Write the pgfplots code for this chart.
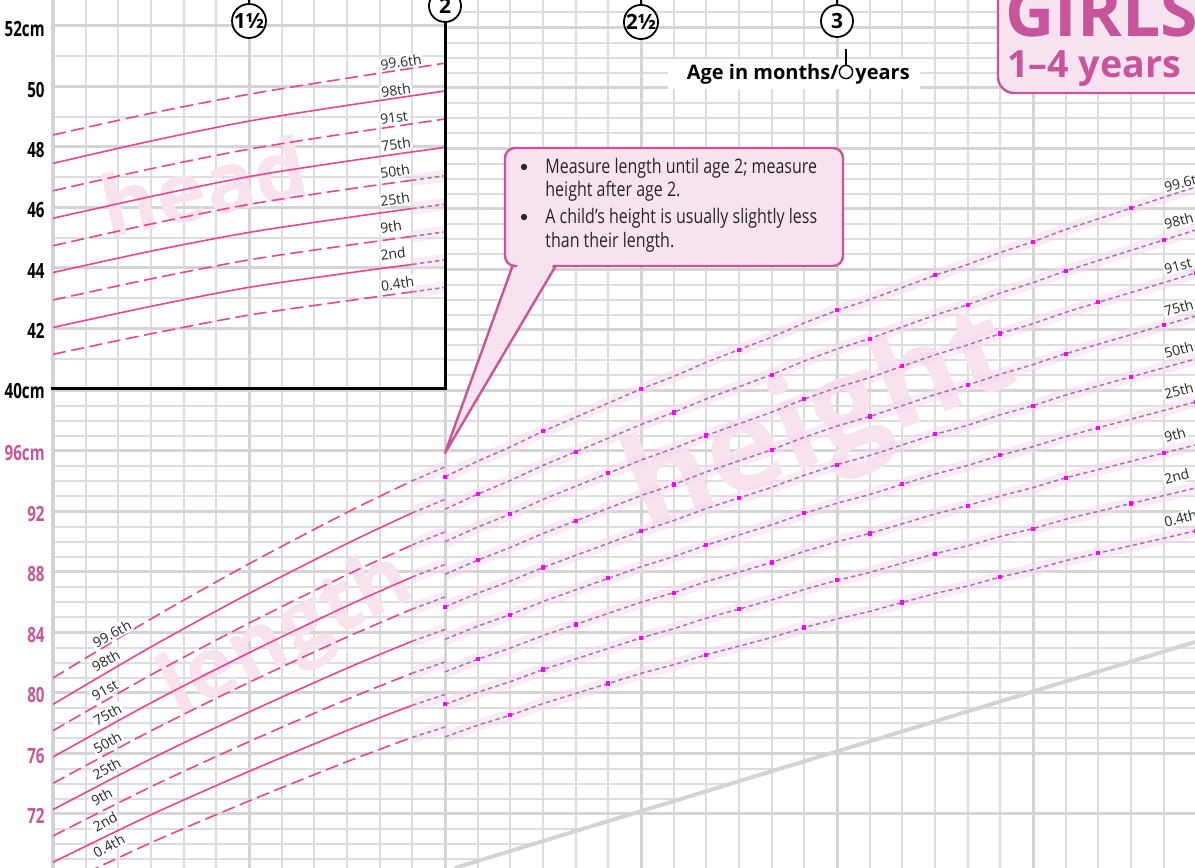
\documentclass[border=0pt]{standalone}
\usepackage{pgfplots}
\pgfplotsset{compat=1.18}
\usepackage{pgfplotstable}
\usepackage{fontspec}
\setmainfont{Open Sans}
\newfontfamily\condfont[FakeStretch=0.8]{Open Sans}
\newfontfamily\narrowfont[FakeStretch=0.72]{Open Sans}
\definecolor{gridc}{RGB}{221,221,221}
\definecolor{gridd}{RGB}{212,212,212}
\definecolor{lc}{RGB}{234,68,150}
\definecolor{fuzzc}{RGB}{160,124,156}
\definecolor{hazec}{RGB}{248,214,240}
\definecolor{wm}{RGB}{247,226,238}
\definecolor{cfill}{RGB}{247,227,240}
\definecolor{cborder}{RGB}{200,84,156}
\definecolor{labc}{RGB}{40,40,40}
\definecolor{dotc}{RGB}{255,0,255}

\pgfplotstableread{
m a b c d e f g h i
24 94.30 92.15 90.00 87.85 85.70 83.55 81.40 79.25 77.10
25 95.33 93.15 90.97 88.78 86.60 84.42 82.23 80.05 77.87
26 96.27 94.05 91.83 89.62 87.40 85.18 82.97 80.75 78.53
27 97.30 95.05 92.80 90.55 88.30 86.05 83.80 81.55 79.30
28 98.23 95.95 93.67 91.38 89.10 86.82 84.53 82.25 79.97
29 99.17 96.85 94.53 92.22 89.90 87.58 85.27 82.95 80.63
30 100.10 97.75 95.40 93.05 90.70 88.35 86.00 83.65 81.30
31 100.93 98.55 96.17 93.78 91.40 89.02 86.63 84.25 81.87
32 101.87 99.45 97.03 94.62 92.20 89.78 87.37 84.95 82.53
33 102.70 100.25 97.80 95.35 92.90 90.45 88.00 85.55 83.10
34 103.53 101.05 98.57 96.08 93.60 91.12 88.63 86.15 83.67
35 104.47 101.95 99.43 96.92 94.40 91.88 89.37 86.85 84.33
36 105.30 102.75 100.20 97.65 95.10 92.55 90.00 87.45 84.90
37 106.01 103.43 100.85 98.28 95.70 93.12 90.55 87.97 85.39
38 106.81 104.21 101.61 99.00 96.40 93.80 91.19 88.59 85.99
39 107.62 104.99 102.36 99.73 97.10 94.47 91.84 89.21 86.58
40 108.33 105.67 103.01 100.36 97.70 95.04 92.39 89.73 87.07
41 109.13 106.45 103.77 101.08 98.40 95.72 93.03 90.35 87.67
42 109.84 107.13 104.42 101.71 99.00 96.29 93.58 90.87 88.16
43 110.65 107.91 105.17 102.44 99.70 96.96 94.23 91.49 88.75
44 111.35 108.59 105.83 103.06 100.30 97.54 94.77 92.01 89.25
45 112.06 109.27 106.48 103.69 100.90 98.11 95.32 92.53 89.74
46 112.77 109.95 107.13 104.32 101.50 98.68 95.87 93.05 90.23
47 113.47 110.63 107.79 104.94 102.10 99.26 96.41 93.57 90.73
}\heighttab

\pgfplotsset{
  crisp/.style={lc, line width=0.8pt, smooth},
  crispd/.style={crisp, dash pattern=on 6.5pt off 2.8pt},
  fuzz/.style={fuzzc, line width=0.75pt, dash pattern=on 2.2pt off 1.6pt,
     preaction={draw=hazec, line width=6pt, solid, opacity=0.5}},
  dots/.style={dotc, only marks, mark=square*, mark size=0.8pt,
     mark options={solid, fill=dotc, draw=dotc, line width=0pt}, mark repeat=3, mark phase=#1},
}

\begin{document}
\begin{tikzpicture}
\path[use as bounding box] (0,0) rectangle (597.5pt,434pt);
\clip (0,0) rectangle (597.5pt,434pt);
\fill[white] (0,0) rectangle (597.5pt,434pt);

% ---------- grid (months / length cm) ----------
\begin{scope}[x=16.333333pt,y=7.5625pt,shift={(-169.5pt,-517.5pt)}, line cap=butt]
 \foreach \m in {13,...,47} \draw[gridc,line width=0.9pt] (\m,68.3) -- (\m,126);
 \foreach \L in {69,...,75} \draw[gridc,line width=0.9pt] (12,\L) -- ({24.3+(\L-68.43)/0.6593},\L);
 \foreach \L in {77,...,100} \draw[gridc,line width=0.9pt] (12,\L) -- (47.2,\L);
 \foreach \L in {101,...,125} \draw[gridc,line width=0.9pt] (24,\L) -- (47.2,\L);
 \foreach \H in {41,...,52} \draw[gridc,line width=0.9pt] (12,{100.1+2*(\H-40)}) -- (24,{100.1+2*(\H-40)});
 \foreach \m in {18,24,30,36,42} \draw[gridd,line width=1.5pt] (\m,68.3) -- (\m,126);
 \foreach \L in {72,76,...,100} \draw[gridd,line width=1.5pt] (12,\L) -- (47.2,\L);
 \foreach \L in {104,108,...,124} \draw[gridd,line width=1.5pt] (24,\L) -- (47.2,\L);
 \foreach \H in {42,44,...,52} \draw[gridd,line width=1.5pt] (12,{100.1+2*(\H-40)}) -- (24,{100.1+2*(\H-40)});
 \draw[gridd,line width=2pt] (12,68.3) -- (12,126);
 \draw[gridd,line width=2pt] (24.3,68.43) -- (47.2,83.53);
\end{scope}

% ---------- watermarks (pixel coords) ----------
\begin{scope}[x=0.5pt,y=-0.5pt,shift={(0pt,434pt)}]
 \node[rotate=12, text=wm, font=\bfseries\fontsize{42}{42}\selectfont] at (204,186) {head};
 \node[rotate=27, text=wm, font=\bfseries\fontsize{42}{42}\selectfont] at (288,637) {length};
 \node[rotate=22, text=wm, font=\bfseries\fontsize{63}{63}\selectfont] at (822,426) {height};
\end{scope}

% ---------- length / height ----------
\begin{axis}[at={(26.5pt,0pt)}, anchor=south west, scale only axis,
  width=571.6667pt, height=434pt, xmin=12, xmax=47, ymin=68.43, ymax=125.82,
  axis lines=none]
 \addplot[fuzz] table[x=m,y=a]{\heighttab};
 \addplot[fuzz] table[x=m,y=b]{\heighttab};
 \addplot[fuzz] table[x=m,y=c]{\heighttab};
 \addplot[fuzz] table[x=m,y=d]{\heighttab};
 \addplot[fuzz] table[x=m,y=e]{\heighttab};
 \addplot[fuzz] table[x=m,y=f]{\heighttab};
 \addplot[fuzz] table[x=m,y=g]{\heighttab};
 \addplot[fuzz] table[x=m,y=h]{\heighttab};
 \addplot[fuzz] table[x=m,y=i]{\heighttab};
 \addplot[dots=1] table[x=m,y=a]{\heighttab};
 \addplot[dots=2] table[x=m,y=b]{\heighttab};
 \addplot[dots=3] table[x=m,y=c]{\heighttab};
 \addplot[dots=2] table[x=m,y=d]{\heighttab};
 \addplot[dots=1] table[x=m,y=e]{\heighttab};
 \addplot[dots=3] table[x=m,y=f]{\heighttab};
 \addplot[dots=2] table[x=m,y=g]{\heighttab};
 \addplot[dots=1] table[x=m,y=h]{\heighttab};
 \addplot[dots=3] table[x=m,y=i]{\heighttab};
 % length continuation 23-24 months
 \addplot[fuzz] coordinates {(23,94.03) (24,94.95)};
 \addplot[fuzz] coordinates {(23,91.91) (24,92.80)};
 \addplot[fuzz] coordinates {(23,89.79) (24,90.65)};
 \addplot[fuzz] coordinates {(23,87.67) (24,88.50)};
 \addplot[fuzz] coordinates {(23,85.55) (24,86.35)};
 \addplot[fuzz] coordinates {(23,83.43) (24,84.20)};
 \addplot[fuzz] coordinates {(23,81.31) (24,82.05)};
 \addplot[fuzz] coordinates {(23,79.19) (24,79.90)};
 \addplot[fuzz] coordinates {(23,77.07) (24,77.75)};
 % length 12-23 months
 \addplot[crispd] coordinates {(12,80.99) (15,84.90) (18,88.54) (21,91.94) (23,94.03)};
 \addplot[crisp]  coordinates {(12,79.25) (15,83.05) (18,86.58) (21,89.88) (23,91.91)};
 \addplot[crispd] coordinates {(12,77.51) (15,81.20) (18,84.62) (21,87.82) (23,89.79)};
 \addplot[crisp]  coordinates {(12,75.77) (15,79.35) (18,82.66) (21,85.76) (23,87.67)};
 \addplot[crispd] coordinates {(12,74.03) (15,77.50) (18,80.70) (21,83.70) (23,85.55)};
 \addplot[crisp]  coordinates {(12,72.29) (15,75.65) (18,78.74) (21,81.64) (23,83.43)};
 \addplot[crispd] coordinates {(12,70.55) (15,73.80) (18,76.78) (21,79.58) (23,81.31)};
 \addplot[crisp]  coordinates {(12,68.81) (15,71.95) (18,74.82) (21,77.52) (23,79.19)};
 \addplot[crispd] coordinates {(12,67.07) (15,70.10) (18,72.86) (21,75.46) (23,77.07)};
\end{axis}

% ---------- head circumference ----------
\begin{axis}[at={(26.5pt,0pt)}, anchor=south west, scale only axis,
  width=571.6667pt, height=434pt, xmin=12, xmax=47, ymin=24.122, ymax=52.895,
  axis lines=none]
 \addplot[crispd] coordinates {(12,48.42) (15,49.14) (18,49.77) (21,50.30) (24,50.80)};
 \addplot[crisp]  coordinates {(12,47.48) (15,48.22) (18,48.88) (21,49.40) (24,49.88)};
 \addplot[crispd] coordinates {(12,46.57) (15,47.30) (18,47.95) (21,48.47) (24,48.95)};
 \addplot[crisp]  coordinates {(12,45.66) (15,46.38) (18,47.04) (21,47.55) (24,48.01)};
 \addplot[crispd] coordinates {(12,44.75) (15,45.47) (18,46.12) (21,46.62) (23,46.92)};
 \addplot[crisp]  coordinates {(12,43.86) (15,44.57) (18,45.19) (21,45.68) (23,45.98)};
 \addplot[crispd] coordinates {(12,42.95) (15,43.65) (18,44.28) (21,44.76) (23,45.06)};
 \addplot[crisp]  coordinates {(12,42.04) (15,42.74) (18,43.37) (21,43.84) (23,44.13)};
 \addplot[crispd] coordinates {(12,41.15) (15,41.83) (18,42.45) (21,42.92) (23,43.22)};
 \addplot[fuzz] coordinates {(23,46.92) (24,47.07)};
 \addplot[fuzz] coordinates {(23,45.98) (24,46.13)};
 \addplot[fuzz] coordinates {(23,45.06) (24,45.21)};
 \addplot[fuzz] coordinates {(23,44.13) (24,44.28)};
 \addplot[fuzz] coordinates {(23,43.22) (24,43.37)};
\end{axis}

% ---------- annotations (pixel coords) ----------
\begin{scope}[x=0.5pt,y=-0.5pt,shift={(0pt,434pt)}]
 % head panel border
 \draw[black,line width=1.5pt] (51,389) -- (445,389) -- (445,-5);
 % centile labels
 \begin{scope}[every node/.style={font=\fontsize{7}{8}\selectfont, text=labc, fill=white, inner sep=0.6pt}]
  \node[rotate=8] at (401,62) {99.6th};
  \node[rotate=8] at (396,90) {98th};
  \node[rotate=8] at (394,117.5) {91st};
  \node[rotate=8] at (396,144) {75th};
  \node[rotate=8] at (395,171) {50th};
  \node[rotate=8] at (395,199) {25th};
  \node[rotate=8] at (391,226.7) {9th};
  \node[rotate=8] at (393,254) {2nd};
  \node[rotate=8] at (397.5,283.8) {0.4th};
  \node[rotate=29] at (112,634) {99.6th};
  \node[rotate=29] at (106,661) {98th};
  \node[rotate=29] at (105,690) {91st};
  \node[rotate=29] at (107.5,715) {75th};
  \node[rotate=29] at (107.5,742.5) {50th};
  \node[rotate=29] at (106.7,769) {25th};
  \node[rotate=29] at (101.7,796.7) {9th};
  \node[rotate=29] at (105,822) {2nd};
  \node[rotate=29] at (109,846) {0.4th};
  \node[rotate=15,anchor=west] at (1163,188) {99.6th};
  \node[rotate=15,anchor=west] at (1163,225) {98th};
  \node[rotate=15,anchor=west] at (1163,270) {91st};
  \node[rotate=15,anchor=west] at (1163,312) {75th};
  \node[rotate=15,anchor=west] at (1163,354) {50th};
  \node[rotate=15,anchor=west] at (1163,395) {25th};
  \node[rotate=15,anchor=west] at (1163,438) {9th};
  \node[rotate=15,anchor=west] at (1163,480) {2nd};
  \node[rotate=15,anchor=west] at (1163,523) {0.4th};
 \end{scope}
 % y labels
 \begin{scope}[every node/.style={anchor=east, inner sep=0pt, font=\narrowfont\bfseries\fontsize{10.5}{12}\selectfont}]
  \node at (45,29) {52cm};
  \node at (45,90) {50};
  \node at (45,150) {48};
  \node at (45,210) {46};
  \node at (45,271) {44};
  \node at (45,331) {42};
  \node at (45,391) {40cm};
  \node[text=cborder] at (45,453) {96cm};
  \node[text=cborder] at (45,514) {92};
  \node[text=cborder] at (45,574) {88};
  \node[text=cborder] at (45,635) {84};
  \node[text=cborder] at (45,695) {80};
  \node[text=cborder] at (45,756) {76};
  \node[text=cborder] at (45,816) {72};
 \end{scope}
 % year circles
 \draw[line width=0.9pt] (249,-2) -- (249,8);
 \draw[line width=0.9pt] (641,-2) -- (641,8);
 \draw[line width=0.9pt] (837,-2) -- (837,8);
 \begin{scope}[every node/.style={circle, draw, line width=0.9pt, fill=white, minimum size=16pt, inner sep=0pt, font=\bfseries\fontsize{10.5}{11}\selectfont}]
  \node at (249,21) {1½};
  \node at (445,6) {2};
  \node at (641,22) {2½};
  \node at (837,21) {3};
 \end{scope}
 % axis title
 \fill[white] (668,59) rectangle (920,89);
 \node[anchor=base east, inner sep=0pt, font=\bfseries\fontsize{10}{12}\selectfont] at (839,80) {Age in months/};
 \node[anchor=base west, inner sep=0pt, font=\bfseries\fontsize{10}{12}\selectfont] at (855,80) {years};
 \draw[line width=0.8pt] (846,49) -- (846,65);
 \draw[line width=0.7pt] (846,72) circle (3.3pt);
 % GIRLS box
 \filldraw[fill=cfill, draw=cborder, line width=1.2pt, rounded corners=8pt] (998,-30) rectangle (1240,93);
 \node[anchor=base west, inner sep=0pt, text=cborder, font=\bfseries\fontsize{34}{34}\selectfont] at (1005,37) {GIRLS};
 \node[anchor=base west, inner sep=0pt, text=cborder, font=\bfseries\fontsize{18.8}{20}\selectfont] at (1007,78) {1–4 years};
 % callout
 \filldraw[fill=cfill, draw=cborder, line width=1.2pt, line join=round] (514,262) -- (445,453) -- (558,262);
 \filldraw[fill=cfill, draw=cborder, line width=1.2pt, rounded corners=5pt] (505,148) rectangle (843,266);
 \fill[cfill] (518.5,262) -- (554.5,262) -- (549.5,271) -- (515.5,271) -- cycle;
 \fill[black!85] (524,167) circle (1.6pt);
 \fill[black!85] (524,217) circle (1.6pt);
 \begin{scope}[every node/.style={anchor=base west, inner sep=0pt, text=black!85, font=\condfont\fontsize{10}{12}\selectfont}]
  \node at (545,174) {Measure length until age 2; measure};
  \node at (545,197) {height after age 2.};
  \node at (545,224) {A child’s height is usually slightly less};
  \node at (545,248) {than their length.};
 \end{scope}
\end{scope}
\end{tikzpicture}
\end{document}
